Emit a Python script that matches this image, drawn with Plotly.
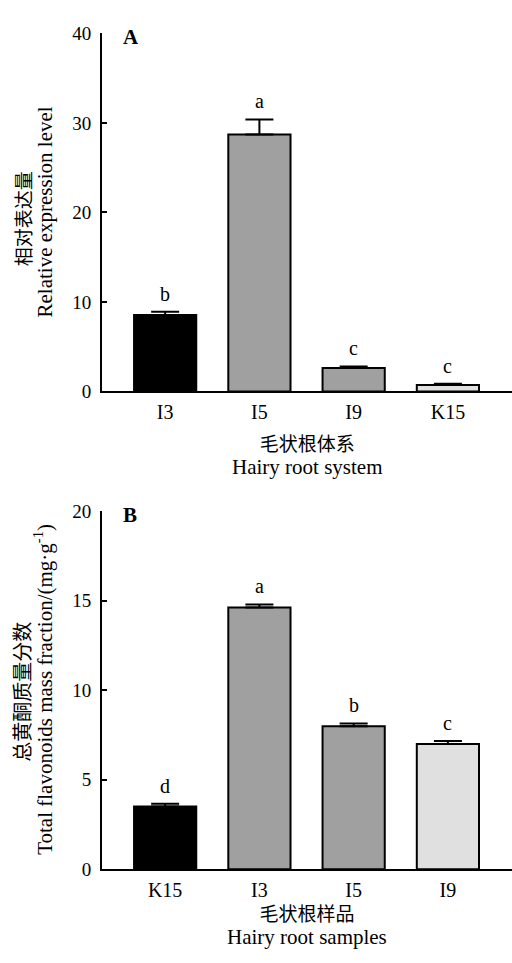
import plotly.graph_objects as go

# Panel A data
a_cats = ["I3", "I5", "I9", "K15"]
a_vals = [8.55, 28.7, 2.62, 0.73]
a_errs = [0.35, 1.7, 0.18, 0.14]
a_letters = ["b", "a", "c", "c"]
a_colors = ["#000000", "#a0a0a0", "#a0a0a0", "#e0e0e0"]
a_yticks = [0, 10, 20, 30, 40]

# Panel B data
b_cats = ["K15", "I3", "I5", "I9"]
b_vals = [3.5, 14.62, 7.98, 6.99]
b_errs = [0.15, 0.17, 0.16, 0.17]
b_letters = ["d", "a", "b", "c"]
b_colors = ["#000000", "#a0a0a0", "#a0a0a0", "#e0e0e0"]
b_yticks = [0, 5, 10, 15, 20]

W, H = 512, 963
SERIF = "Liberation Serif, Times New Roman, serif"
CJK = "Noto Sans CJK SC, Liberation Serif, serif"
MIX = "Liberation Serif, Noto Sans CJK SC, serif"

def py(px):
    return (H - px) / H

def pxx(px):
    return px / W

fig = go.Figure()

def add_panel(cats, vals, errs, colors, xa, ya):
    fig.add_trace(go.Bar(
        x=cats, y=vals, xaxis=xa, yaxis=ya, width=0.66,
        marker=dict(color=colors, line=dict(color="black", width=2)),
        error_y=dict(type="data", symmetric=False, array=errs,
                     arrayminus=[0] * len(errs), color="black",
                     thickness=2, width=14),
        showlegend=False, hoverinfo="x+y",
    ))

add_panel(a_cats, a_vals, a_errs, a_colors, "x", "y")
add_panel(b_cats, b_vals, b_errs, b_colors, "x2", "y2")

xcommon = dict(range=[-0.67, 3.68], showline=True, linecolor="black",
               linewidth=2, ticks="", showgrid=False, zeroline=False,
               ticklabelstandoff=2,
               tickfont=dict(family=SERIF, size=20, color="black"),
               fixedrange=True)
ycommon = dict(showline=True, linecolor="black", linewidth=2,
               ticks="inside", ticklen=5, tickwidth=2, tickcolor="black",
               showgrid=False, zeroline=False, ticklabelstandoff=5,
               tickfont=dict(family=SERIF, size=19, color="black"),
               fixedrange=True)

fig.update_layout(
    width=W, height=H, autosize=False,
    margin=dict(l=0, r=0, t=0, b=0),
    paper_bgcolor="white", plot_bgcolor="white",
    xaxis=dict(domain=[pxx(102), 1], anchor="y", **xcommon),
    yaxis=dict(domain=[py(390), py(24)], anchor="x", range=[0, 40],
               tickvals=a_yticks, **ycommon),
    xaxis2=dict(domain=[pxx(102), 1], anchor="y2", **xcommon),
    yaxis2=dict(domain=[py(878.3), py(512.3)], anchor="x2", range=[0, 20],
                tickvals=b_yticks, **ycommon),
)

ann = []
for cats, vals, errs, letters, xr, yr in [
    (a_cats, a_vals, a_errs, a_letters, "x", "y"),
    (b_cats, b_vals, b_errs, b_letters, "x2", "y2"),
]:
    for c, v, e, l in zip(cats, vals, errs, letters):
        ann.append(dict(x=c, y=v + e, xref=xr, yref=yr, text=l,
                        showarrow=False, yanchor="bottom", yshift=5,
                        font=dict(family=SERIF, size=20, color="black")))

# Panel labels
ann.append(dict(x=pxx(121), y=py(28), xref="paper", yref="paper", text="<b>A</b>",
                showarrow=False, xanchor="left", yanchor="middle",
                font=dict(family=SERIF, size=21, color="black")))
ann.append(dict(x=pxx(121), y=py(516), xref="paper", yref="paper", text="<b>B</b>",
                showarrow=False, xanchor="left", yanchor="middle",
                font=dict(family=SERIF, size=21, color="black")))

# Y titles
ann.append(dict(x=pxx(22), y=py(214), xref="paper", yref="paper", text="相对表达量",
                textangle=-90, showarrow=False, xanchor="center", yanchor="middle",
                font=dict(family=CJK, size=19, color="black")))
ann.append(dict(x=pxx(45), y=py(207), xref="paper", yref="paper",
                text="Relative expression level",
                textangle=-90, showarrow=False, xanchor="center", yanchor="middle",
                font=dict(family=SERIF, size=21, color="black")))
ann.append(dict(x=pxx(22), y=py(697), xref="paper", yref="paper", text="总黄酮质量分数",
                textangle=-90, showarrow=False, xanchor="center", yanchor="middle",
                font=dict(family=CJK, size=20, color="black")))
ann.append(dict(x=pxx(44), y=py(695), xref="paper", yref="paper",
                text="Total flavonoids mass fraction/(mg·g<sup>-1</sup>)",
                textangle=-90, showarrow=False, xanchor="center", yanchor="middle",
                font=dict(family=SERIF, size=21, color="black")))

# X titles (two lines in one text, tight line spacing)
def two_line(cn, en):
    return ('<span style="font-size:19px">' + cn + '</span><br>'
            '<span style="font-size:21px">' + en + '</span>')

ann.append(dict(x=pxx(307), y=py(456), xref="paper", yref="paper",
                text=two_line("毛状根体系", "Hairy root system"),
                showarrow=False, xanchor="center", yanchor="middle",
                font=dict(family=MIX, size=17.5, color="black")))
ann.append(dict(x=pxx(307), y=py(937), xref="paper", yref="paper",
                text=two_line("毛状根样品", "Hairy root samples"),
                showarrow=False, xanchor="center", yanchor="middle",
                font=dict(family=MIX, size=17.5, color="black")))

fig.update_layout(annotations=ann)

fig.write_html("out.html",
               config={"displayModeBar": False},
               post_script="document.body.style.margin='0';document.body.style.overflow='hidden';")
